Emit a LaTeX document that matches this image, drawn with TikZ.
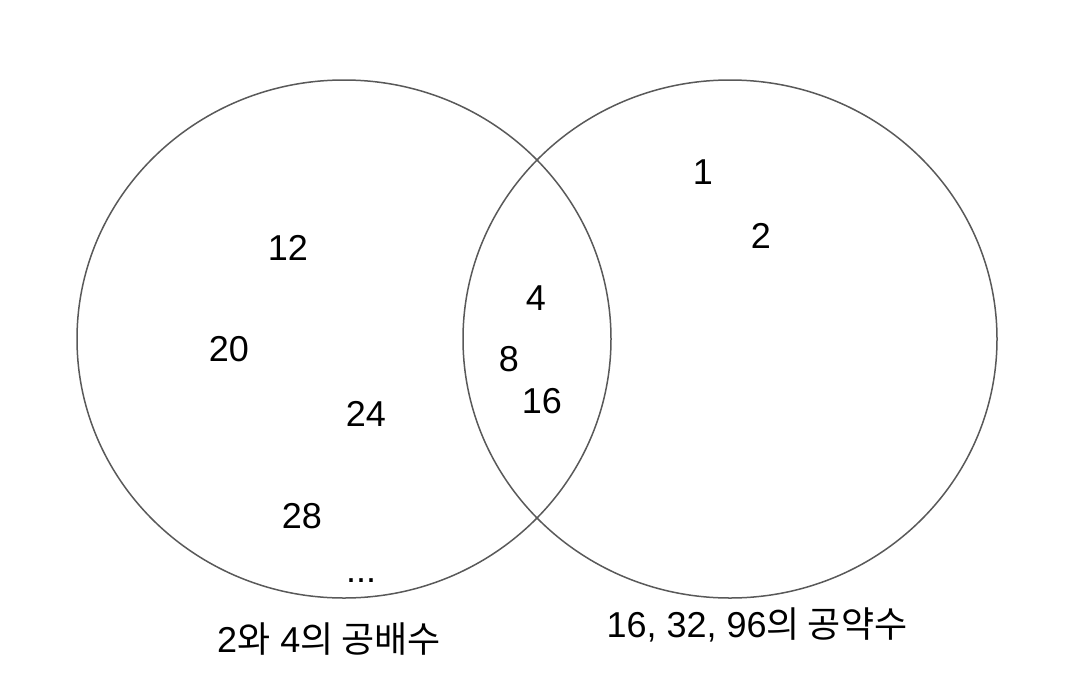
\documentclass[tikz,border=0pt]{standalone}
\usepackage{fontspec}
\setmainfont{Liberation Sans}
\newfontfamily\kr{Noto Sans CJK KR}
\begin{document}
\begin{tikzpicture}[x=1pt,y=-1pt,
  setc/.style={draw=black!65, line width=1.5pt},
  num/.style={font=\fontsize{36}{42}\selectfont, inner sep=0pt, text=black},
  lab/.style={font=\fontsize{36}{42}\selectfont, inner sep=0pt, text=black}]
\useasboundingbox (0,0) rectangle (1066,694);
\draw[setc] (344,339) ellipse [x radius=267, y radius=259];
\draw[setc] (730,339) ellipse [x radius=267, y radius=259];
\node[num] (n1) at (703,172) {1};
\node[num] (n2) at (761,236) {2};
\node[num] (n12) at (288,248) {12};
\node[num] (n20) at (229,349) {20};
\node[num] (n24) at (366,414) {24};
\node[num] (n28) at (302,516) {28};
\node[num, anchor=base] (dots) at (361,582) {...};
\node[num] (n4) at (536,298) {4};
\node[num] (n8) at (509,359) {8};
\node[num] (n16) at (542,401) {16};
\node[lab] (la) at (329,639) {2{\kr 와} 4{\kr 의 공배수}};
\node[lab] (lb) at (757,625) {16, 32, 96{\kr 의 공약수}};
\end{tikzpicture}
\end{document}
